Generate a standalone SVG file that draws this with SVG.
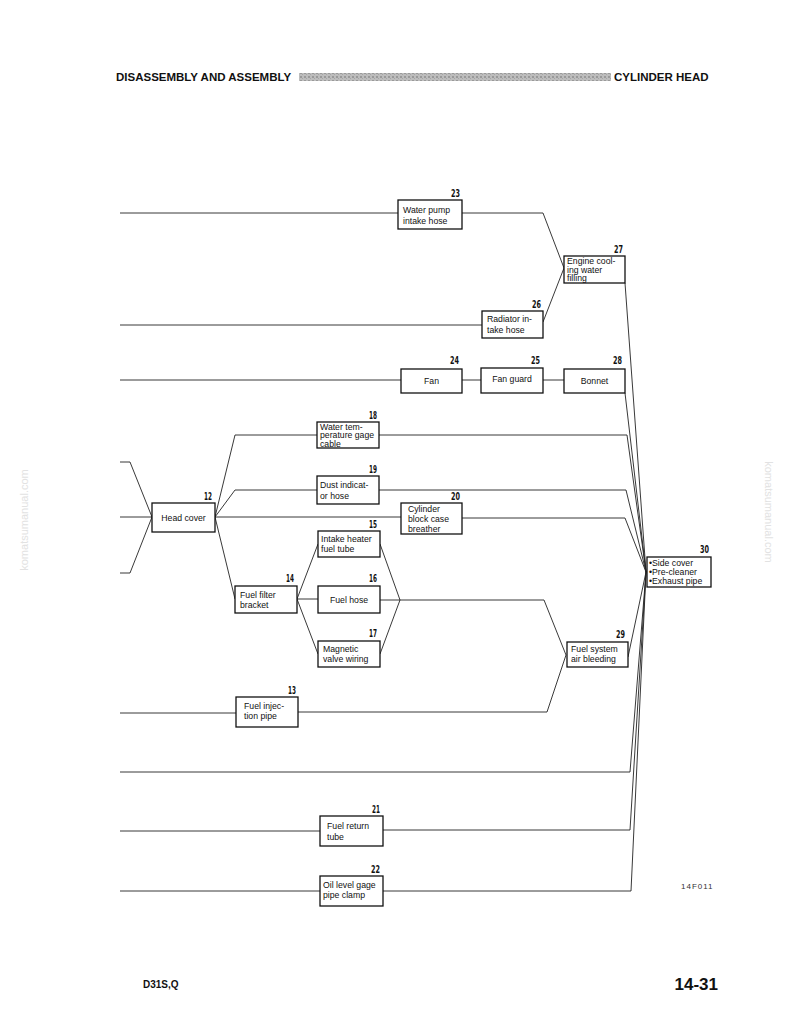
<svg xmlns="http://www.w3.org/2000/svg" width="794" height="1028" viewBox="0 0 794 1028">
<style>
.bg{fill:#fff}
.box{fill:#fff;stroke:#111;stroke-width:1.3}
.ln{fill:none;stroke:#222;stroke-width:0.9}
.t{font-family:"Liberation Sans",Arial,sans-serif;font-size:8.7px;fill:#111}
.c{text-anchor:middle}
.n{font-family:"Liberation Sans Narrow","DejaVu Sans Condensed","Liberation Sans",sans-serif;font-stretch:condensed;font-weight:bold;font-size:10px;fill:#111;text-anchor:end}
.h{font-family:"Liberation Sans",Arial,sans-serif;font-weight:bold;font-size:11.5px;fill:#111}
.wm{font-family:"Liberation Sans",Arial,sans-serif;font-size:11px;fill:#e2e2e2;text-anchor:middle}
</style>
<defs>
<pattern id="tex" width="4" height="4" patternUnits="userSpaceOnUse">
<rect width="4" height="4" fill="#bdbdbd"/>
<rect x="0" y="0" width="2" height="2" fill="#9a9a9a"/>
<rect x="2" y="2" width="1" height="1" fill="#a5a5a5"/>
</pattern>
</defs>
<rect class="bg" x="0" y="0" width="794" height="1028"/>

<g id="header">
<text class="h" x="116" y="81">DISASSEMBLY AND ASSEMBLY</text>
<rect x="299" y="73" width="312" height="8" fill="url(#tex)"/>
<text class="h" x="614" y="81">CYLINDER HEAD</text>
</g>

<g id="watermarks">
<text class="wm" transform="translate(28,520) rotate(-90)">komatsumanual.com</text>
<text class="wm" transform="translate(765,512) rotate(90)">komatsumanual.com</text>
</g>

<g id="connectors">
<polyline class="ln" points="120,213 398,213"/>
<polyline class="ln" points="462,213 543,213 564,268"/>
<polyline class="ln" points="120,325 482,325"/>
<polyline class="ln" points="543,322 564,268"/>
<polyline class="ln" points="120,380 401,380"/>
<polyline class="ln" points="462,380 481,380"/>
<polyline class="ln" points="543,380 564,380"/>
<polyline class="ln" points="120,462 130,462 152,517"/>
<polyline class="ln" points="120,517 152,517"/>
<polyline class="ln" points="120,573 130,573 152,517"/>
<polyline class="ln" points="215,517 235,435 317,435"/>
<polyline class="ln" points="215,517 235,490 317,490"/>
<polyline class="ln" points="215,517 401,517"/>
<polyline class="ln" points="215,517 235,599"/>
<polyline class="ln" points="297,599 318,544"/>
<polyline class="ln" points="297,599 318,599"/>
<polyline class="ln" points="297,599 318,654"/>
<polyline class="ln" points="380,544 400,600 380,654"/>
<polyline class="ln" points="380,600 544,600 566,655"/>
<polyline class="ln" points="120,713 236,713"/>
<polyline class="ln" points="298,712 547,712 566,655"/>
<polyline class="ln" points="120,772 630,772 646,572"/>
<polyline class="ln" points="120,831 320,831"/>
<polyline class="ln" points="383,830 630,830 646,572"/>
<polyline class="ln" points="120,891 320,891"/>
<polyline class="ln" points="383,891 631,891 646,572"/>
<polyline class="ln" points="625,283 646,572"/>
<polyline class="ln" points="625,393 646,572"/>
<polyline class="ln" points="379,435 627,435 646,572"/>
<polyline class="ln" points="379,490 626,490 646,572"/>
<polyline class="ln" points="462,518 625,518 646,572"/>
<polyline class="ln" points="628,657 646,572"/>
</g>

<g id="n23">
<rect class="box" x="398" y="200" width="64" height="29"/>
<text class="n" x="460" y="197" textLength="9" lengthAdjust="spacingAndGlyphs">23</text>
<text class="t" x="403" y="213">Water pump</text>
<text class="t" x="403" y="224">intake hose</text>
</g>
<g id="n26">
<rect class="box" x="482" y="311" width="61" height="27"/>
<text class="n" x="541" y="308" textLength="9" lengthAdjust="spacingAndGlyphs">26</text>
<text class="t" x="487" y="322">Radiator in-</text>
<text class="t" x="487" y="333">take hose</text>
</g>
<g id="n27">
<rect class="box" x="564" y="256" width="61" height="27"/>
<text class="n" x="623" y="253" textLength="9" lengthAdjust="spacingAndGlyphs">27</text>
<text class="t" x="567" y="264">Engine cool-</text>
<text class="t" x="567" y="272.5">ing water</text>
<text class="t" x="567" y="281">filling</text>
</g>
<g id="n24">
<rect class="box" x="401" y="369" width="61" height="24"/>
<text class="n" x="459" y="364" textLength="9" lengthAdjust="spacingAndGlyphs">24</text>
<text class="t c" x="431.5" y="384">Fan</text>
</g>
<g id="n25">
<rect class="box" x="481" y="368" width="62" height="25"/>
<text class="n" x="540" y="364" textLength="9" lengthAdjust="spacingAndGlyphs">25</text>
<text class="t c" x="512" y="382">Fan guard</text>
</g>
<g id="n28">
<rect class="box" x="564" y="369" width="61" height="24"/>
<text class="n" x="622" y="364" textLength="9" lengthAdjust="spacingAndGlyphs">28</text>
<text class="t c" x="594.5" y="384">Bonnet</text>
</g>
<g id="n12">
<rect class="box" x="152" y="503" width="63" height="29"/>
<text class="n" x="212" y="500" textLength="8" lengthAdjust="spacingAndGlyphs">12</text>
<text class="t c" x="183.5" y="521">Head cover</text>
</g>
<g id="n18">
<rect class="box" x="317" y="422" width="62" height="26"/>
<text class="n" x="377" y="419" textLength="8" lengthAdjust="spacingAndGlyphs">18</text>
<text class="t" x="320" y="429.5">Water tem-</text>
<text class="t" x="320" y="438">perature gage</text>
<text class="t" x="320" y="446.5">cable</text>
</g>
<g id="n19">
<rect class="box" x="317" y="476" width="62" height="28"/>
<text class="n" x="377" y="473" textLength="8" lengthAdjust="spacingAndGlyphs">19</text>
<text class="t" x="320" y="488">Dust indicat-</text>
<text class="t" x="320" y="498.5">or hose</text>
</g>
<g id="n20">
<rect class="box" x="401" y="503" width="61" height="31"/>
<text class="n" x="460" y="500" textLength="9" lengthAdjust="spacingAndGlyphs">20</text>
<text class="t" x="408" y="512">Cylinder</text>
<text class="t" x="408" y="522">block case</text>
<text class="t" x="408" y="532">breather</text>
</g>
<g id="n14">
<rect class="box" x="235" y="586" width="62" height="27"/>
<text class="n" x="294" y="582" textLength="8" lengthAdjust="spacingAndGlyphs">14</text>
<text class="t" x="240" y="598">Fuel filter</text>
<text class="t" x="240" y="608">bracket</text>
</g>
<g id="n15">
<rect class="box" x="318" y="531" width="62" height="26"/>
<text class="n" x="377" y="528" textLength="8" lengthAdjust="spacingAndGlyphs">15</text>
<text class="t" x="321" y="542">Intake heater</text>
<text class="t" x="321" y="552">fuel tube</text>
</g>
<g id="n16">
<rect class="box" x="318" y="586" width="62" height="27"/>
<text class="n" x="377" y="582" textLength="8" lengthAdjust="spacingAndGlyphs">16</text>
<text class="t c" x="349" y="603">Fuel hose</text>
</g>
<g id="n17">
<rect class="box" x="318" y="641" width="62" height="26"/>
<text class="n" x="377" y="637" textLength="8" lengthAdjust="spacingAndGlyphs">17</text>
<text class="t" x="323" y="652">Magnetic</text>
<text class="t" x="323" y="662">valve wiring</text>
</g>
<g id="n29">
<rect class="box" x="567" y="642" width="61" height="25"/>
<text class="n" x="625" y="638" textLength="9" lengthAdjust="spacingAndGlyphs">29</text>
<text class="t" x="571" y="652">Fuel system</text>
<text class="t" x="571" y="662">air bleeding</text>
</g>
<g id="n30">
<rect class="box" x="647" y="557" width="64" height="30"/>
<text class="n" x="709" y="553" textLength="9" lengthAdjust="spacingAndGlyphs">30</text>
<text class="t" x="649" y="566">•Side cover</text>
<text class="t" x="649" y="575">•Pre-cleaner</text>
<text class="t" x="649" y="584">•Exhaust pipe</text>
</g>
<g id="n13">
<rect class="box" x="236" y="697" width="62" height="30"/>
<text class="n" x="296" y="694" textLength="8" lengthAdjust="spacingAndGlyphs">13</text>
<text class="t" x="244" y="709">Fuel injec-</text>
<text class="t" x="244" y="719">tion pipe</text>
</g>
<g id="n21">
<rect class="box" x="320" y="816" width="63" height="30"/>
<text class="n" x="380" y="813" textLength="8" lengthAdjust="spacingAndGlyphs">21</text>
<text class="t" x="327" y="829">Fuel return</text>
<text class="t" x="327" y="840">tube</text>
</g>
<g id="n22">
<rect class="box" x="320" y="876" width="63" height="30"/>
<text class="n" x="380" y="873" textLength="9" lengthAdjust="spacingAndGlyphs">22</text>
<text class="t" x="323" y="888">Oil level gage</text>
<text class="t" x="323" y="898">pipe clamp</text>
</g>

<g id="footer">
<text x="681" y="889" style="font-family:'Liberation Sans',Arial,sans-serif;font-size:8px;fill:#333;letter-spacing:1px">14F011</text>
<text x="143" y="988" style="font-family:'Liberation Sans',Arial,sans-serif;font-weight:bold;font-size:10px;fill:#111">D31S,Q</text>
<text x="718" y="990" text-anchor="end" style="font-family:'Liberation Sans',Arial,sans-serif;font-weight:bold;font-size:17px;fill:#111">14-31</text>
</g>
</svg>
